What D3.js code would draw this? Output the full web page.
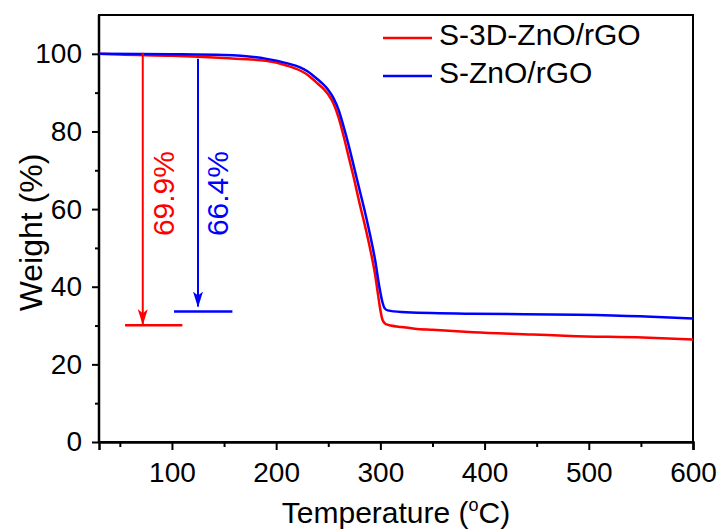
<!DOCTYPE html>
<html>
<head>
<meta charset="utf-8">
<script src="https://cdn.jsdelivr.net/npm/d3@7"></script>
<style>
  body { margin: 0; background: #fff; }
  svg { display: block; font-family: "Liberation Sans", Arial, sans-serif; }
</style>
</head>
<body>
<svg id="chart" width="721" height="529"></svg>
<script>
// TGA curves
const tempRed = [30, 50, 100, 150, 190, 210, 223, 230, 235, 240, 245, 250, 255, 260, 265, 270, 275, 280, 285, 290, 295, 298, 300, 302, 305, 310, 320, 333, 350, 389, 446, 482, 552, 600];
const weightRed = [100, 99.8, 99.5, 98.9, 98.2, 97.0, 95.7, 94.6, 93.5, 92.3, 91.1, 89.5, 87.2, 83.5, 78.5, 73, 67.5, 61.5, 56, 50, 43, 37.5, 34, 31.5, 30.4, 30, 29.6, 29.2, 28.9, 28.3, 27.7, 27.3, 26.9, 26.4];

const tempBlue = [30, 100, 150, 191, 210, 223, 230, 235, 240, 245, 250, 255, 260, 265, 270, 275, 280, 285, 290, 295, 299, 302, 304, 307, 320, 388, 489, 549, 600];
const weightBlue = [100, 99.9, 99.7, 98.7, 97.6, 96.5, 95.5, 94.5, 93.4, 92.2, 90.7, 88.6, 85.5, 81, 76, 70.5, 65, 59.5, 53.5, 46.8, 40, 36, 34.5, 33.9, 33.5, 33.05, 32.8, 32.4, 31.8];

const seriesNames = ["S-3D-ZnO/rGO", "S-ZnO/rGO"];
const seriesColors = ["#ff0000", "#0000ff"];

// annotations: arrow x, arrow top, residue level, baseline span, label
const arrowX = [72, 125];
const arrowTop = [100.3, 98.7];
const residue = [30.1, 33.6];
const baseFrom = [55, 102];
const baseTo = [110, 158];
const lossLabels = ["69.9%", "66.4%"];
const labelX = [91, 143];

const xTicks = [100, 200, 300, 400, 500, 600];
const xMinor = [50, 150, 250, 350, 450, 550];
const yTicks = [0, 20, 40, 60, 80, 100];
const yMinor = [10, 30, 50, 70, 90];

const width = 721, height = 529;
const margin = { top: 15, right: 28, bottom: 87, left: 99 };
const svg = d3.select("#chart");

const x = d3.scaleLinear().domain([30, 600]).range([margin.left, width - margin.right]);
const y = d3.scaleLinear().domain([0, 110]).range([height - margin.bottom, margin.top]);

// frame
svg.append("rect")
    .attr("x", margin.left).attr("y", margin.top)
    .attr("width", width - margin.left - margin.right)
    .attr("height", height - margin.top - margin.bottom)
    .attr("fill", "none").attr("stroke", "#000").attr("stroke-width", 2);

// axes
const gX = svg.append("g").attr("transform", `translate(0,${height - margin.bottom})`);
gX.call(d3.axisBottom(x).tickValues(xMinor).tickSize(5).tickFormat(""))
    .call(g => g.select(".domain").remove());
const gX2 = svg.append("g").attr("transform", `translate(0,${height - margin.bottom})`);
gX2.call(d3.axisBottom(x).tickValues(xTicks).tickSize(8).tickPadding(12))
    .call(g => g.select(".domain").attr("stroke-width", 2.5));

const gY = svg.append("g").attr("transform", `translate(${margin.left},0)`);
gY.call(d3.axisLeft(y).tickValues(yMinor).tickSize(4).tickFormat(""))
    .call(g => g.select(".domain").remove());
const gY2 = svg.append("g").attr("transform", `translate(${margin.left},0)`);
gY2.call(d3.axisLeft(y).tickValues(yTicks).tickSize(7).tickPadding(10))
    .call(g => g.select(".domain").attr("d", `M0,${y(110)}V${y(0)}`).attr("stroke-width", 2.5));

svg.selectAll(".tick line").attr("stroke-width", 2);
svg.selectAll(".tick text").attr("font-size", 28).attr("font-family", "Liberation Sans, Arial, sans-serif").attr("fill", "#000");

// axis titles
svg.append("text")
    .attr("x", (margin.left + width - margin.right) / 2).attr("y", 523)
    .attr("text-anchor", "middle").attr("font-size", 30)
    .html('Temperature (<tspan dy="-12" font-size="18">o</tspan><tspan dy="12">C)</tspan>');

svg.append("text")
    .attr("transform", `translate(42,${(margin.top + height - margin.bottom) / 2 + 4}) rotate(-90)`)
    .attr("text-anchor", "middle").attr("font-size", 32)
    .text("Weight (%)");

// curves
const line = d3.line().x(d => x(d[0])).y(d => y(d[1])).curve(d3.curveMonotoneX);
const curves = [
    d3.zip(tempRed, weightRed),
    d3.zip(tempBlue, weightBlue)
];
svg.append("g").selectAll("path").data(curves).join("path")
    .attr("fill", "none")
    .attr("stroke", (d, i) => seriesColors[i])
    .attr("stroke-width", 2.5)
    .attr("d", line);

// arrowheads
const defs = svg.append("defs");
seriesColors.forEach((c, i) => {
    defs.append("marker").attr("id", "arr" + i)
        .attr("viewBox", "0 0 16 10").attr("refX", 15).attr("refY", 5)
        .attr("markerWidth", 16).attr("markerHeight", 10)
        .attr("markerUnits", "userSpaceOnUse").attr("orient", "auto")
        .append("path").attr("d", "M0,0 L16,5 L0,10 L4,5 Z").attr("fill", c);
});

const ann = svg.append("g");
arrowX.forEach((ax, i) => {
    ann.append("line")
        .attr("x1", x(ax)).attr("x2", x(ax))
        .attr("y1", y(arrowTop[i])).attr("y2", y(residue[i]) - (i === 0 ? 1 : 5))
        .attr("stroke", seriesColors[i]).attr("stroke-width", 2)
        .attr("marker-end", `url(#arr${i})`);
    ann.append("line")
        .attr("x1", x(baseFrom[i])).attr("x2", x(baseTo[i]))
        .attr("y1", y(residue[i])).attr("y2", y(residue[i]))
        .attr("stroke", seriesColors[i]).attr("stroke-width", 2.5);
    ann.append("text")
        .attr("transform", `translate(${x(labelX[i]) + 11},${y(64)}) rotate(-90)`)
        .attr("text-anchor", "middle").attr("font-size", 30)
        .attr("fill", seriesColors[i])
        .text(lossLabels[i]);
});

// legend
const legend = svg.append("g");
seriesNames.forEach((name, i) => {
    const ly = 38 + i * 38;
    legend.append("line").attr("x1", 383).attr("x2", 432).attr("y1", ly).attr("y2", ly)
        .attr("stroke", seriesColors[i]).attr("stroke-width", 2.5);
    legend.append("text").attr("x", 439).attr("y", ly + 7).attr("font-size", 30)
        .attr("dominant-baseline", "auto").text(name);
});
</script>
</body>
</html>
